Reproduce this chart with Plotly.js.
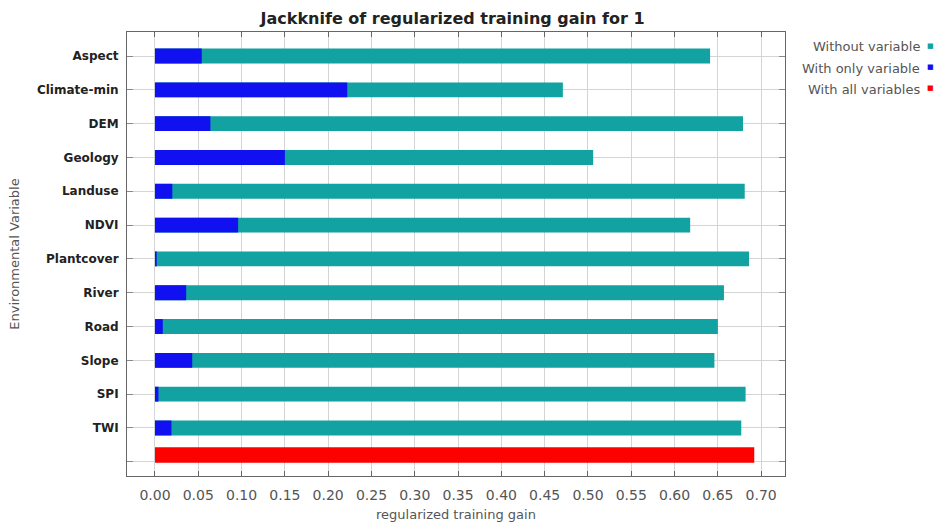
<!DOCTYPE html>
<html>
<head>
<meta charset="utf-8">
<script src="https://cdn.plot.ly/plotly-3.0.1.min.js"></script>
<style>html,body{margin:0;padding:0;background:#fff;}#chart{width:937px;height:526px;}</style>
</head>
<body>
<div id="chart"></div>
<script>
// Data
const variables = ["Aspect","Climate-min","DEM","Geology","Landuse","NDVI","Plantcover","River","Road","Slope","SPI","TWI"];
const withoutVariable = [0.641,0.471,0.679,0.506,0.681,0.618,0.686,0.657,0.650,0.646,0.682,0.677];
const withOnlyVariable = [0.054,0.222,0.064,0.150,0.020,0.096,0.002,0.036,0.009,0.043,0.004,0.019];
const allLabel = " ";
const withAllVariables = [0.692];
const xTickVals = [0,0.05,0.10,0.15,0.20,0.25,0.30,0.35,0.40,0.45,0.50,0.55,0.60,0.65,0.70];
const seriesNames = ["Without variable","With only variable","With all variables"];

const teal = "#12A2A2", blue = "#1010F0", red = "#FF0000";
const categories = variables.concat([allLabel]);
const FONT = "DejaVu Sans, Verdana, sans-serif";

const traces = [
  {type:"bar", orientation:"h", y:variables, x:withoutVariable, name:seriesNames[0],
   marker:{color:teal, line:{width:0}}, width:0.44, hoverinfo:"x+y"},
  {type:"bar", orientation:"h", y:variables, x:withOnlyVariable, name:seriesNames[1],
   marker:{color:blue, line:{width:0}}, width:0.44, hoverinfo:"x+y"},
  {type:"bar", orientation:"h", y:[allLabel], x:withAllVariables, name:seriesNames[2],
   marker:{color:red, line:{width:0}}, width:0.46, offset:-0.43, hoverinfo:"x"}
];

const legendColors = [teal, blue, red];
const annotations = seriesNames.map((n,i)=>({
  xref:"paper", yref:"paper", x:(922-127)/(785-127), y:1-((47+i*21)-32)/(476-32),
  xanchor:"right", yanchor:"middle", showarrow:false,
  text:n, font:{family:FONT, size:13, color:"#555"}
})).concat(seriesNames.map((n,i)=>({
  xref:"paper", yref:"paper", x:(931-127)/(785-127), y:1-((46+i*21)-32)/(476-32),
  xanchor:"center", yanchor:"middle", showarrow:false,
  text:"■", font:{family:FONT, size:7, color:legendColors[i]}
})));

const layout = {
  width:937, height:526,
  margin:{l:127, r:152, t:32, b:50},
  paper_bgcolor:"#fff", plot_bgcolor:"#fff",
  barmode:"overlay", showlegend:false,
  title:{text:"<b>Jackknife of regularized training gain for 1</b>", x:0.483, xanchor:"center", y:0.965, yanchor:"middle",
         font:{family:FONT, size:16, color:"#222"}},
  xaxis:{range:[-0.0323,0.7275], tickvals:xTickVals, ticktext:xTickVals.map(v=>v.toFixed(2)),
         showgrid:true, gridcolor:"#d4d4d4", gridwidth:1, zeroline:false,
         showline:true, linecolor:"#666", linewidth:1, mirror:"ticks",
         ticks:"inside", ticklen:5, tickcolor:"#666",
         tickfont:{family:FONT, size:14, color:"#555"}, ticklabelstandoff:6,
         title:{text:"regularized training gain", standoff:8, font:{family:FONT, size:13, color:"#555"}}},
  yaxis:{type:"category", categoryorder:"array", categoryarray:categories,
         range:[12.42,-0.71], showgrid:true, gridcolor:"#d4d4d4", gridwidth:1, zeroline:false,
         showline:true, linecolor:"#666", linewidth:1, mirror:"ticks",
         ticks:"inside", ticklen:6, tickcolor:"#888",
         tickfont:{family:FONT, size:12, color:"#222", weight:"bold"},
         ticklabelstandoff:5,
         title:{text:"Environmental Variable", standoff:14, font:{family:FONT, size:13, color:"#555"}}},
  annotations:annotations
};

Plotly.newPlot("chart", traces, layout, {displayModeBar:false, staticPlot:true});
</script>
</body>
</html>
